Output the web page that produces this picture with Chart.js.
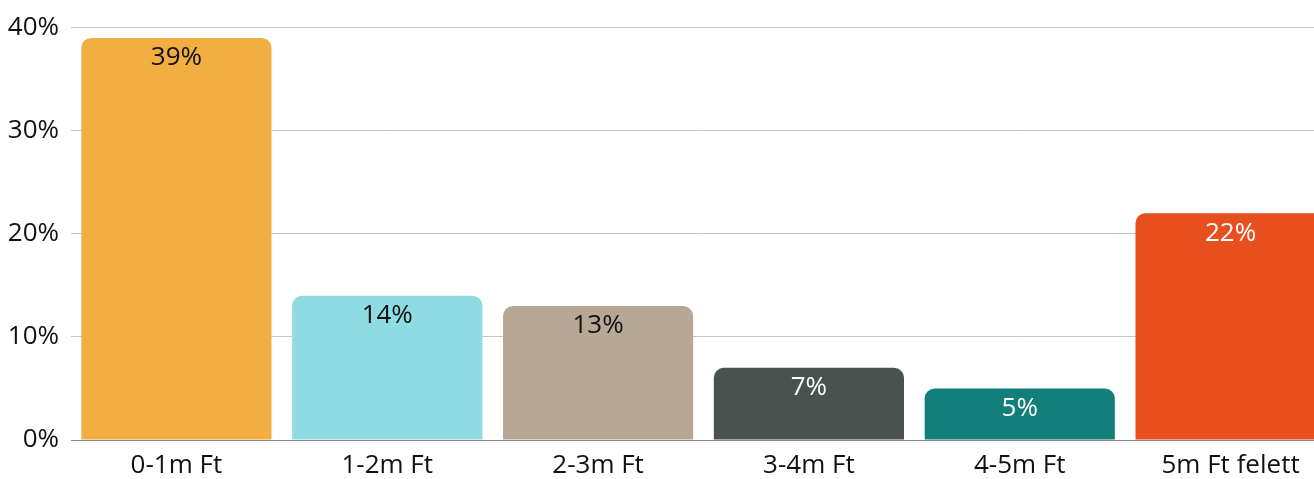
<!DOCTYPE html>
<html>
<head>
<meta charset="utf-8">
<script src="https://cdn.jsdelivr.net/npm/chart.js@4"></script>
<style>
  html, body { margin: 0; padding: 0; background: #fff; overflow: hidden; }
  #wrap { width: 1336px; height: 479px; position: relative; }
</style>
</head>
<body>
<div id="wrap"><canvas id="chart"></canvas></div>
<script>
// Reference data
const categories = ['0-1m Ft', '1-2m Ft', '2-3m Ft', '3-4m Ft', '4-5m Ft', '5m Ft felett'];
const shares = [39, 14, 13, 7, 5, 22];
const barColors = ['#F3AE41', '#8EDCE1', '#B7A896', '#4A5250', '#127F7A', '#E84F1F'];
const labelColors = ['#111', '#111', '#111', '#fff', '#fff', '#fff'];

const FONT_SIZE = 26;

// Draw the value label just inside the top of each bar
const valueLabels = {
    id: 'valueLabels',
    afterDatasetsDraw(chart) {
        const ctx = chart.ctx;
        const meta = chart.getDatasetMeta(0);
        ctx.save();
        ctx.font = FONT_SIZE + 'px "Open Sans"';
        ctx.textAlign = 'center';
        ctx.textBaseline = 'middle';
        meta.data.forEach((bar, i) => {
            ctx.fillStyle = labelColors[i];
            ctx.fillText(shares[i] + '%', bar.x, bar.y + 20);
        });
        ctx.restore();
    }
};

const ctx = document.getElementById('chart').getContext('2d');
new Chart(ctx, {
    type: 'bar',
    data: {
        labels: categories,
        datasets: [{
            data: shares,
            backgroundColor: barColors,
            borderRadius: { topLeft: 10, topRight: 10, bottomLeft: 0, bottomRight: 0 },
            borderSkipped: false,
            barPercentage: 0.902,
            categoryPercentage: 1
        }]
    },
    options: {
        responsive: true,
        maintainAspectRatio: false,
        animation: false,
        layout: { padding: { top: 13, bottom: 0, right: 0, left: 0 } },
        plugins: {
            legend: { display: false },
            tooltip: { enabled: false }
        },
        scales: {
            x: {
                afterFit(scale) { scale.height = 39; },
                grid: { display: false },
                border: { display: true, color: '#8a8a8a', width: 1 },
                ticks: {
                    color: '#111',
                    font: { family: 'Open Sans', size: FONT_SIZE, lineHeight: 1.1 },
                    padding: 3,
                    maxRotation: 0
                }
            },
            y: {
                min: 0,
                max: 40,
                afterFit(scale) { scale.width = 71; },
                border: { display: false },
                grid: {
                    color: c => c.tick.value === 0 ? '#8a8a8a' : '#c6c6c6',
                    drawTicks: false
                },
                ticks: {
                    stepSize: 10,
                    color: '#111',
                    padding: 12,
                    font: { family: 'Open Sans', size: FONT_SIZE },
                    callback: v => v + '%'
                }
            }
        }
    },
    plugins: [valueLabels]
});
</script>
</body>
</html>
